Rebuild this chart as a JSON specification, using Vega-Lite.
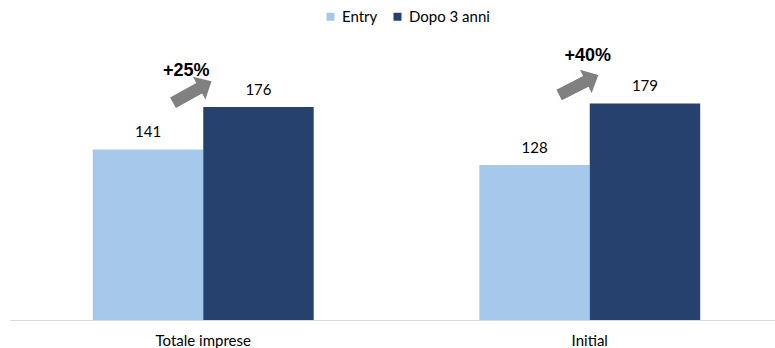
{
  "$schema": "https://vega.github.io/schema/vega-lite/v6.json",
  "autosize": "none",
  "width": 773,
  "height": 280,
  "padding": {"left": 10, "top": 40, "right": 0, "bottom": 28},
  "background": "white",
  "config": {"view": {"stroke": null}},
  "datasets": {
    "bars": [
      {"cat": "Totale imprese", "series": "Entry", "value": 141},
      {"cat": "Totale imprese", "series": "Dopo 3 anni", "value": 176},
      {"cat": "Initial", "series": "Entry", "value": 128},
      {"cat": "Initial", "series": "Dopo 3 anni", "value": 179}
    ],
    "notes": [
      {"cat": "Totale imprese", "label": "+25%", "ty": 206, "ay": 188.4},
      {"cat": "Initial", "label": "+40%", "ty": 218, "ay": 194.2}
    ]
  },
  "layer": [
    {
      "data": {"name": "bars"},
      "mark": {"type": "bar"},
      "encoding": {
        "x": {"field": "cat", "type": "nominal", "sort": ["Totale imprese", "Initial"],
              "scale": {"paddingInner": 0, "paddingOuter": 0},
              "axis": {"title": null, "labelAngle": 0, "ticks": false, "domainColor": "#d9d9d9", "domainWidth": 1,
                       "labelFont": "Lato", "labelFontSize": 15, "labelColor": "#000000", "labelPadding": 13}},
        "xOffset": {"field": "series", "type": "nominal", "sort": ["Entry", "Dopo 3 anni"],
                    "scale": {"paddingInner": 0, "paddingOuter": 0.75}},
        "y": {"field": "value", "type": "quantitative", "scale": {"domain": [0, 231.4], "nice": false}, "axis": null},
        "color": {"field": "series", "type": "nominal",
                  "scale": {"domain": ["Entry", "Dopo 3 anni"], "range": ["#a6c8ea", "#26416e"]},
                  "legend": {"title": null, "orient": "none", "direction": "horizontal", "legendX": 313, "legendY": -31,
                             "symbolType": "square", "symbolSize": 64, "symbolStrokeWidth": 0,
                             "labelFont": "Lato", "labelFontSize": 15, "labelColor": "#000000", "labelOffset": 4, "columnPadding": 12}}
      }
    },
    {
      "data": {"name": "bars"},
      "mark": {"type": "text", "dy": -17, "baseline": "middle", "font": "Lato", "fontSize": 15, "color": "#000000"},
      "encoding": {
        "x": {"field": "cat", "type": "nominal", "sort": ["Totale imprese", "Initial"]},
        "xOffset": {"field": "series", "type": "nominal", "sort": ["Entry", "Dopo 3 anni"]},
        "y": {"field": "value", "type": "quantitative"},
        "text": {"field": "value", "type": "quantitative"}
      }
    },
    {
      "data": {"name": "notes"},
      "transform": [{"filter": "datum.cat === 'Totale imprese'"}],
      "mark": {"type": "point", "filled": true, "color": "#808080", "opacity": 1, "size": 1936, "angle": -29, "xOffset": -11,
               "shape": "M-1,-0.27L0.36,-0.27L0.36,-0.59L1,0L0.36,0.59L0.36,0.27L-1,0.27Z"},
      "encoding": {
        "x": {"field": "cat", "type": "nominal", "sort": ["Totale imprese", "Initial"]},
        "y": {"field": "ay", "type": "quantitative"}
      }
    },
    {
      "data": {"name": "notes"},
      "transform": [{"filter": "datum.cat === 'Initial'"}],
      "mark": {"type": "point", "filled": true, "color": "#808080", "opacity": 1, "size": 1936, "angle": -27, "xOffset": -11,
               "shape": "M-1,-0.27L0.36,-0.27L0.36,-0.59L1,0L0.36,0.59L0.36,0.27L-1,0.27Z"},
      "encoding": {
        "x": {"field": "cat", "type": "nominal", "sort": ["Totale imprese", "Initial"]},
        "y": {"field": "ay", "type": "quantitative"}
      }
    },
    {
      "data": {"name": "notes"},
      "transform": [{"filter": "datum.cat === 'Totale imprese'"}],
      "mark": {"type": "text", "dx": -17, "baseline": "middle", "font": "Liberation Sans", "fontWeight": "bold", "fontSize": 18, "color": "#000000"},
      "encoding": {
        "x": {"field": "cat", "type": "nominal", "sort": ["Totale imprese", "Initial"]},
        "y": {"field": "ty", "type": "quantitative"},
        "text": {"field": "label", "type": "nominal"}
      }
    },
    {
      "data": {"name": "notes"},
      "transform": [{"filter": "datum.cat === 'Initial'"}],
      "mark": {"type": "text", "dx": -2, "baseline": "middle", "font": "Liberation Sans", "fontWeight": "bold", "fontSize": 18, "color": "#000000"},
      "encoding": {
        "x": {"field": "cat", "type": "nominal", "sort": ["Totale imprese", "Initial"]},
        "y": {"field": "ty", "type": "quantitative"},
        "text": {"field": "label", "type": "nominal"}
      }
    }
  ]
}
